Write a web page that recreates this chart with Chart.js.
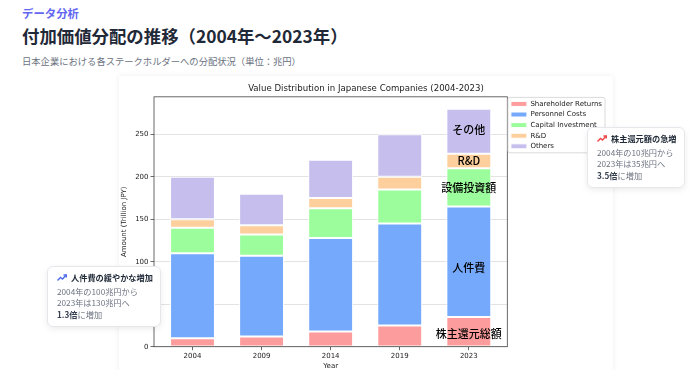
<!DOCTYPE html>
<html lang="ja">
<head>
<meta charset="utf-8">
<script src="https://cdn.jsdelivr.net/npm/chart.js@4.4.1/dist/chart.umd.min.js"></script>
<style>
  body { margin: 0; width: 700px; height: 370px; overflow: hidden; background: #fff;
         font-family: "Noto Sans CJK JP", "Noto Sans", sans-serif; position: relative; }
  .kicker { position: absolute; left: 22px; top: 5px; font-size: 11.4px; font-weight: 700; color: #6366f1; }
  .title { position: absolute; left: 22px; top: 23px; font-size: 17.4px; font-weight: 700; color: #1f2937; }
  .sub { position: absolute; left: 22px; top: 54px; font-size: 9.3px; color: #6b7280; }
  .card { position: absolute; left: 119px; top: 76px; width: 494px; height: 310px; background: #fff;
          box-shadow: 0 0 6px rgba(0,0,0,0.07); }
  #wrap { position: absolute; left: 120px; top: 76px; width: 492px; height: 294px; }
  .note { position: absolute; background: #fff; border: 1px solid #e5e7eb; border-radius: 6px;
          box-shadow: 0 2px 6px rgba(0,0,0,0.08); font-size: 8.2px; color: #6b7280; line-height: 11.6px;
          padding: 5px 0 0 9px; box-sizing: border-box; }
  .note .nt { font-weight: 700; color: #1f2937; margin-bottom: 2px; display: flex; align-items: center; }
  .note .nt svg { margin-right: 4px; }
  .note b { color: #374151; }
</style>
</head>
<body>
<div class="kicker">データ分析</div>
<div class="title">付加価値分配の推移（2004年〜2023年）</div>
<div class="sub">日本企業における各ステークホルダーへの分配状況（単位：兆円）</div>
<div class="card"></div>
<div id="wrap"><canvas id="c"></canvas></div>

<div class="note" style="left:47px;top:266px;width:114px;height:61px">
  <div class="nt"><svg width="10" height="7" viewBox="0 0 10 7"><polyline points="0.5,6.5 3.5,3.5 5.5,5 9,1.2" fill="none" stroke="#4f6bed" stroke-width="1.4"/><polyline points="6.5,1 9.3,1 9.3,3.6" fill="none" stroke="#4f6bed" stroke-width="1.4"/></svg>人件費の緩やかな増加</div>
  <div>2004年の100兆円から</div>
  <div>2023年は130兆円へ</div>
  <div><b>1.3倍</b>に増加</div>
</div>
<div class="note" style="left:587px;top:127px;width:98px;height:61px">
  <div class="nt"><svg width="10" height="7" viewBox="0 0 10 7"><polyline points="0.5,6.5 3.5,3.5 5.5,5 9,1.2" fill="none" stroke="#ef4444" stroke-width="1.4"/><polyline points="6.5,1 9.3,1 9.3,3.6" fill="none" stroke="#ef4444" stroke-width="1.4"/></svg>株主還元額の急増</div>
  <div>2004年の10兆円から</div>
  <div>2023年は35兆円へ</div>
  <div><b>3.5倍</b>に増加</div>
</div>

<script>
// data (trillion JPY)
const years = ['2004', '2009', '2014', '2019', '2023'];
const shareholder = [10, 12, 18, 25, 35];
const personnel = [100, 95, 110, 120, 130];
const capital = [30, 25, 35, 40, 45];
const rnd = [10, 11, 12, 15, 17];
const others = [50, 37, 45, 50, 53];
const yTicks = [0, 50, 100, 150, 200, 250];

// labels written inside the 2023 bar, with their y position in data units
const segLabels = ['株主還元総額', '人件費', '設備投資額', 'R&D', 'その他'];
const segLabelY = [15, 93, 187, 218.5, 255];

const series = [
  { label: 'Shareholder Returns', data: shareholder, color: '#fd9c9c' },
  { label: 'Personnel Costs', data: personnel, color: '#75a9fc' },
  { label: 'Capital Investment', data: capital, color: '#9cfd9c' },
  { label: 'R&D', data: rnd, color: '#fdcf9c' },
  { label: 'Others', data: others, color: '#c6bfee' }
];

const mplFont = 'DejaVu Sans';

const framePlugin = {
  id: 'frame',
  afterDraw(chart) {
    const ctx = chart.ctx;
    const a = chart.chartArea;
    ctx.save();
    ctx.strokeStyle = '#444';
    ctx.lineWidth = 0.8;
    ctx.strokeRect(a.left, a.top, a.right - a.left, a.bottom - a.top);
    // legend frame
    const boxes = chart.legend.legendHitBoxes;
    if (boxes && boxes.length) {
      const l = Math.min(...boxes.map(b => b.left)) - 3;
      const t = Math.min(...boxes.map(b => b.top)) - 3;
      const r = Math.max(...boxes.map(b => b.left + b.width)) + 3;
      const btm = Math.max(...boxes.map(b => b.top + b.height)) + 3;
      ctx.strokeStyle = '#d0d0d0';
      ctx.lineWidth = 0.8;
      ctx.beginPath();
      ctx.roundRect(l, t, r - l, btm - t, 2);
      ctx.stroke();
    }
    ctx.restore();
  },
  afterDatasetsDraw(chart) {
    const ctx = chart.ctx;
    const y = chart.scales.y;
    const last = years.length - 1;
    ctx.save();
    ctx.fillStyle = '#000';
    ctx.textAlign = 'center';
    ctx.textBaseline = 'middle';
    ctx.font = '500 11px "Noto Sans CJK JP"';
    segLabels.forEach((txt, i) => {
      const bar = chart.getDatasetMeta(i).data[last];
      ctx.fillText(txt, bar.x, y.getPixelForValue(segLabelY[i]));
    });
    ctx.restore();
  }
};

new Chart(document.getElementById('c'), {
  type: 'bar',
  data: {
    datasets: series.map(s => ({
      label: s.label,
      data: s.data.map((v, i) => ({ x: i, y: v })),
      backgroundColor: s.color,
      borderColor: '#fff',
      borderWidth: 1,
      borderSkipped: false,
      barPercentage: 0.65,
      categoryPercentage: 1
    }))
  },
  options: {
    responsive: true,
    maintainAspectRatio: false,
    animation: false,
    layout: { padding: { right: 0, top: 0, bottom: 0, left: 0 } },
    plugins: {
      title: {
        display: true,
        text: 'Value Distribution in Japanese Companies (2004-2023)',
        color: '#222',
        font: { family: mplFont, size: 8.6, weight: 'normal' },
        padding: { top: 8, bottom: 2.5 }
      },
      legend: {
        position: 'right',
        align: 'start',
        fullSize: false,
        labels: {
          color: '#222',
          font: { family: mplFont, size: 7 },
          boxWidth: 16,
          boxHeight: 5,
          padding: 3.6
        }
      },
      tooltip: { enabled: false }
    },
    scales: {
      x: {
        type: 'linear',
        stacked: true,
        offset: false,
        min: -0.5575,
        max: 4.5575,
        afterBuildTicks: s => { s.ticks = years.map((_, i) => ({ value: i })); },
        afterFit: s => { s.height = 23.3; },
        ticks: {
          color: '#222',
          font: { family: mplFont, size: 7 },
          padding: 2,
          maxRotation: 0,
          callback: v => years[v]
        },
        grid: { offset: false, drawOnChartArea: false, tickLength: 3.5, tickColor: '#444', tickWidth: 0.8 },
        border: { display: false },
        title: { display: true, text: 'Year', color: '#222', font: { family: mplFont, size: 7 }, padding: 0 }
      },
      y: {
        stacked: true,
        min: 0,
        max: 294,
        afterBuildTicks: s => { s.ticks = yTicks.map(v => ({ value: v })); },
        afterFit: s => { s.width = 34; },
        ticks: { color: '#222', font: { family: mplFont, size: 7 }, padding: 2 },
        grid: { color: '#d0d0d0', lineWidth: 0.6, borderDash: [3, 2], tickLength: 3.5, tickColor: '#444', tickWidth: 0.8, tickBorderDash: [] },
        border: { display: false },
        title: { display: true, text: 'Amount (Trillion JPY)', color: '#222', font: { family: mplFont, size: 7 }, padding: 0 }
      }
    }
  },
  plugins: [framePlugin]
});
</script>
</body>
</html>
